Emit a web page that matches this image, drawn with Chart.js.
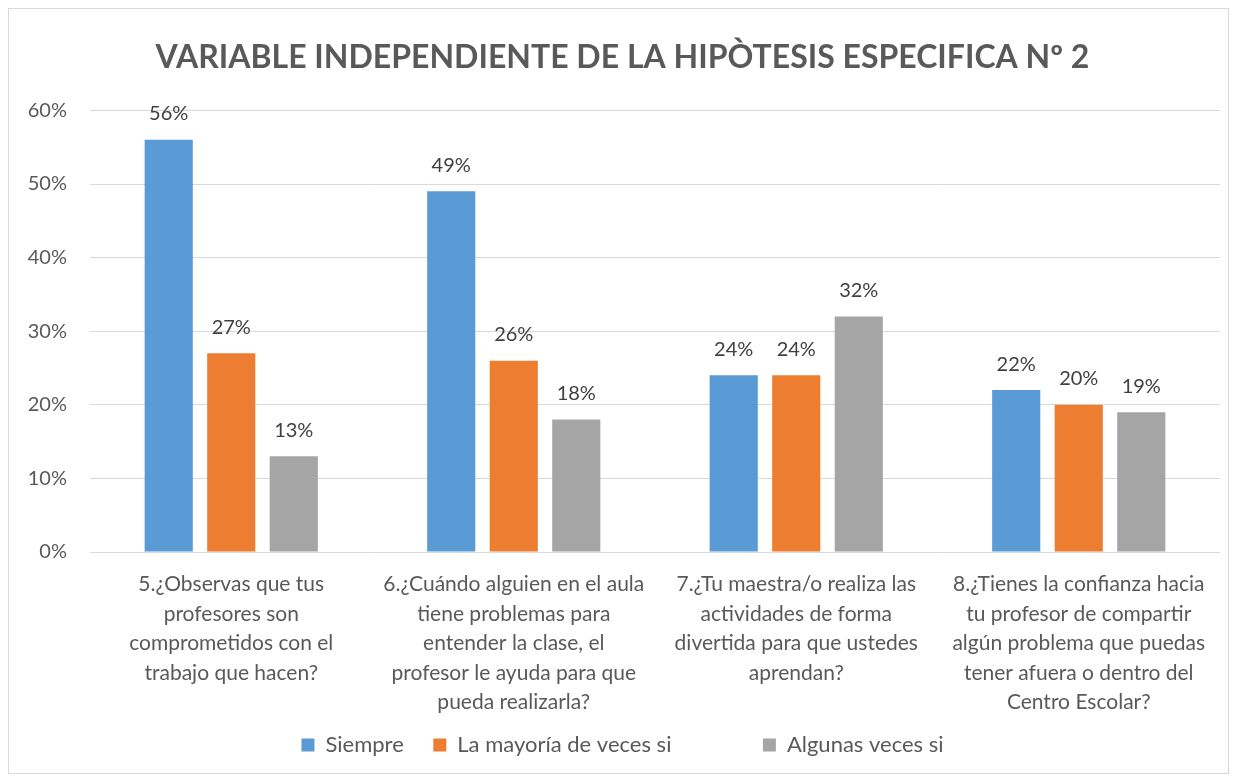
<!DOCTYPE html>
<html><head><meta charset="utf-8">
<script src="https://cdn.jsdelivr.net/npm/chart.js@4"></script>
<style>
html,body{margin:0;padding:0;background:#fff;}
#wrap{position:absolute;left:8px;top:8px;width:1221px;height:766px;border:1px solid #d9d9d9;box-sizing:border-box;background:#fff;}
canvas{display:block;}
</style></head><body>
<div id="wrap"><canvas id="c"></canvas></div>
<script>
const titleText = 'VARIABLE INDEPENDIENTE DE LA HIPÒTESIS ESPECIFICA Nº 2';
const categories = [
  ['5.¿Observas que tus','profesores son','comprometidos con el','trabajo que hacen?'],
  ['6.¿Cuándo alguien en el aula','tiene problemas para','entender la clase, el','profesor le ayuda para que','pueda realizarla?'],
  ['7.¿Tu maestra/o realiza las','actividades de forma','divertida para que ustedes','aprendan?'],
  ['8.¿Tienes la confianza hacia','tu profesor de compartir','algún problema que puedas','tener afuera o dentro del','Centro Escolar?']
];
const seriesNames = ['Siempre','La mayoría de veces si','Algunas veces si'];
const siempre = [56, 49, 24, 22];
const mayoria = [27, 26, 24, 20];
const algunas = [13, 18, 32, 19];
const yTicks = [0, 10, 20, 30, 40, 50, 60];
const colors = ['#5b9bd5','#ed7d31','#a5a5a5'];
const FONT = 'Lato, "Liberation Sans", sans-serif';

const valueLabels = {
  id:'valueLabels',
  afterDatasetsDraw(chart){
    const ctx = chart.ctx;
    ctx.save();
    ctx.font = '20px ' + FONT;
    ctx.fillStyle = '#404040';
    ctx.textAlign = 'center';
    ctx.textBaseline = 'middle';
    chart.data.datasets.forEach((ds,i)=>{
      chart.getDatasetMeta(i).data.forEach((bar,j)=>{
        ctx.fillText(ds.data[j] + '%', bar.x, bar.y - 26);
      });
    });
    ctx.restore();
  }
};

new Chart(document.getElementById('c'), {
  type:'bar',
  data:{
    labels: categories,
    datasets:[
      {label:seriesNames[0], data:siempre, backgroundColor:colors[0]},
      {label:seriesNames[1], data:mayoria, backgroundColor:colors[1]},
      {label:seriesNames[2], data:algunas, backgroundColor:colors[2]}
    ]
  },
  options:{
    responsive:true,
    maintainAspectRatio:false,
    animation:false,
    layout:{padding:{left:16,right:8,top:6,bottom:7}},
    datasets:{bar:{categoryPercentage:0.664,barPercentage:0.77}},
    plugins:{
      title:{display:true,text:titleText,color:'#595959',font:{family:FONT,size:32,weight:'bold'},padding:{top:23,bottom:34}},
      legend:{position:'bottom',labels:{color:'#595959',font:{family:FONT,size:22},boxWidth:13,boxHeight:13,padding:7,
        generateLabels(chart){
          const items = Chart.defaults.plugins.legend.labels.generateLabels(chart);
          items[0].text = items[0].text + '    ';
          items[1].text = items[1].text + '               ';
          return items;
        }}},
      tooltip:{enabled:false}
    },
    scales:{
      x:{grid:{display:false},border:{display:false},
         ticks:{color:'#595959',font:{family:FONT,size:21,lineHeight:1.4},maxRotation:0,autoSkip:false,padding:10}},
      y:{min:0,max:60,grid:{color:'#d9d9d9',drawTicks:false},border:{display:false},
         afterBuildTicks(axis){ axis.ticks = yTicks.map(v=>({value:v})); },
         afterFit(axis){ axis.width = 65; },
         ticks:{color:'#595959',font:{family:FONT,size:20},padding:23,callback:v=>v+'%'}}
    }
  },
  plugins:[valueLabels]
});
</script>
</body></html>
